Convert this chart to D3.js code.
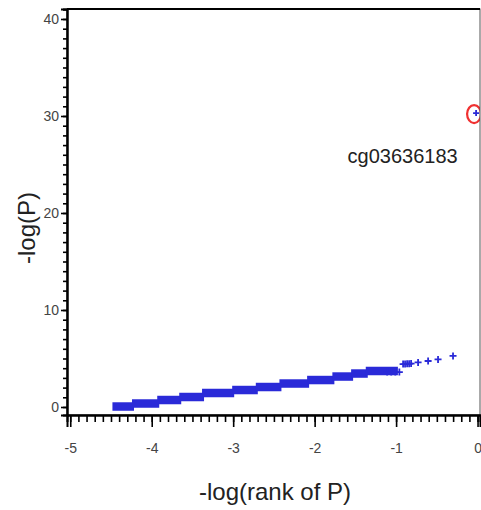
<!DOCTYPE html>
<html>
<head>
<meta charset="utf-8">
<script src="https://cdn.jsdelivr.net/npm/d3@7"></script>
<style>
body { margin: 0; background: #fff; }
text { font-family: "Liberation Sans", Arial, sans-serif; }
</style>
</head>
<body>
<svg id="chart" width="481" height="510"></svg>
<script>
// staircase of tied p-values: start / end of each run on x, and its -log(P)
var stepX0 = [-4.47, -4.23, -3.92, -3.65, -3.37, -3.00, -2.71, -2.42, -2.08, -1.77, -1.54, -1.36];
var stepX1 = [-4.23, -3.92, -3.65, -3.37, -3.00, -2.71, -2.42, -2.08, -1.77, -1.54, -1.36, -0.99];
var stepY  = [0.05, 0.36, 0.72, 1.03, 1.44, 1.75, 2.06, 2.42, 2.78, 3.14, 3.45, 3.71];

// individual points at the top end
var pointX = [-1.11, -1.06, -1.01, -0.96, -0.914, -0.89, -0.865, -0.84, -0.816, -0.73, -0.607, -0.485, -0.301];
var pointY = [3.6, 3.6, 3.6, 3.6, 4.43, 4.43, 4.45, 4.46, 4.48, 4.59, 4.74, 4.90, 5.26];

// the outlier probe
var outlierX = -0.018, outlierY = 30.3;
var outlierName = "cg03636183";
var labelX = -0.92, labelY = 25.9;

var xTicks = [-5, -4, -3, -2, -1, 0];
var yTicks = [0, 10, 20, 30, 40];

var svg = d3.select("#chart");
var margins = { left: 67, right: 1, top: 9, bottom: 95 };
var W = 481, H = 510;

var xScale = d3.scaleLinear().domain([-5.04, 0.03]).range([margins.left, W - margins.right]);
var yScale = d3.scaleLinear().domain([-0.825, 41.03]).range([H - margins.bottom, margins.top]);

var blue = "#2a2ad8";

svg.append("clipPath").attr("id", "plotclip")
	.append("rect")
	.attr("x", margins.left).attr("y", margins.top)
	.attr("width", W - margins.right - margins.left)
	.attr("height", H - margins.bottom - margins.top);

var plot = svg.append("g").attr("clip-path", "url(#plotclip)");

// steps as thick bars, a pixel of overlap so the band reads as one
plot.selectAll(".step")
	.data(stepY)
	.enter().append("line")
	.attr("class", "step")
	.attr("x1", function(d, i) { return xScale(stepX0[i]) - 1; })
	.attr("x2", function(d, i) { return xScale(stepX1[i]) + 1; })
	.attr("y1", function(d) { return yScale(d); })
	.attr("y2", function(d) { return yScale(d); })
	.attr("stroke", blue)
	.attr("stroke-width", 8.5);

function plusPath(s) {
	return "M" + (-s) + ",0H" + s + "M0," + (-s) + "V" + s;
}

plot.selectAll(".pt")
	.data(pointY)
	.enter().append("path")
	.attr("class", "pt")
	.attr("d", plusPath(3.5))
	.attr("transform", function(d, i) { return "translate(" + xScale(pointX[i]) + "," + yScale(d) + ")"; })
	.attr("stroke", blue)
	.attr("stroke-width", 1.8)
	.attr("fill", "none");

plot.append("ellipse")
	.attr("cx", xScale(outlierX) - 2)
	.attr("cy", yScale(outlierY) + 1)
	.attr("rx", 7).attr("ry", 9)
	.attr("fill", "none")
	.attr("stroke", "#f03030")
	.attr("stroke-width", 2.2);

plot.append("path")
	.attr("d", plusPath(3))
	.attr("transform", "translate(" + xScale(outlierX) + "," + yScale(outlierY) + ")")
	.attr("stroke", blue)
	.attr("stroke-width", 1.8);

svg.append("text")
	.attr("x", xScale(labelX))
	.attr("y", yScale(labelY))
	.attr("dy", "0.35em")
	.attr("text-anchor", "middle")
	.style("font-size", "20px")
	.style("fill", "#222")
	.text(outlierName);

// frame
svg.append("rect")
	.attr("x", margins.left).attr("y", margins.top)
	.attr("width", W - margins.right - margins.left)
	.attr("height", H - margins.bottom - margins.top)
	.attr("fill", "none")
	.attr("stroke", "#555")
	.attr("stroke-width", 1);

// axes
var xMinor = d3.range(-50, 1).map(function(d) { return d / 10; });
var yMinor = d3.range(0, 42);

var xAxis = svg.append("g").attr("transform", "translate(0," + (H - margins.bottom) + ")");
xAxis.call(d3.axisBottom(xScale).tickValues(xMinor).tickSize(7).tickFormat(""));
var xMajor = svg.append("g").attr("transform", "translate(0," + (H - margins.bottom) + ")");
xMajor.call(d3.axisBottom(xScale).tickValues(xTicks).tickSize(12).tickPadding(16)
	.tickFormat(function(d) { return d === 0 ? "0" : "-" + Math.abs(d); }));

var yAxis = svg.append("g").attr("transform", "translate(" + margins.left + ",0)");
yAxis.call(d3.axisLeft(yScale).tickValues(yMinor).tickSize(4).tickFormat(""));
var yMajor = svg.append("g").attr("transform", "translate(" + margins.left + ",0)");
yMajor.call(d3.axisLeft(yScale).tickValues(yTicks).tickSize(6).tickPadding(2));

svg.selectAll(".domain").attr("stroke", "#000").attr("stroke-width", 2);
svg.selectAll(".tick line").attr("stroke", "#000").attr("stroke-width", 1.6);
svg.selectAll(".tick text").style("font-size", "14px").style("fill", "#444")
	.style("font-family", "'Liberation Sans', Arial, sans-serif");

// top line of frame a bit heavier like the original
svg.append("line")
	.attr("x1", margins.left).attr("x2", W - margins.right)
	.attr("y1", margins.top).attr("y2", margins.top)
	.attr("stroke", "#000").attr("stroke-width", 2);

// titles
svg.append("text")
	.attr("x", 275).attr("y", 500)
	.attr("text-anchor", "middle")
	.style("font-size", "24px")
	.style("fill", "#222")
	.text("-log(rank of P)");

svg.append("text")
	.attr("transform", "translate(35,228) rotate(-90)")
	.attr("text-anchor", "middle")
	.style("font-size", "24px")
	.style("fill", "#222")
	.text("-log(P)");
</script>
</body>
</html>
